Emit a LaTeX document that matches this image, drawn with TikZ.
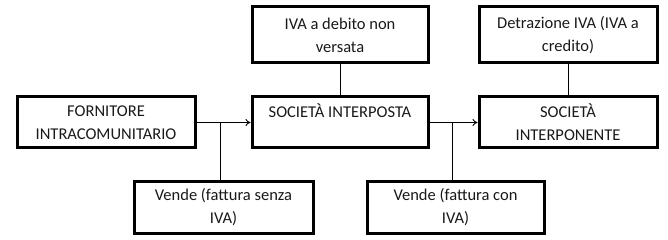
\documentclass[tikz,border=0pt]{standalone}
\usepackage{fontspec}
\setmainfont{Carlito}
\usetikzlibrary{arrows.meta}
\begin{document}
\begin{tikzpicture}[x=1pt,y=-1pt,
  box/.style={draw=black, line width=3pt, inner sep=0pt, align=center,
    font=\fontsize{16.5}{23}\selectfont, text=black!90},
  conn/.style={draw=black, line width=0.9pt},
  arr/.style={conn, -{To[length=5pt,width=7pt]}}]
\useasboundingbox (0,0) rectangle (668,240);
\node[box, minimum width=178pt, minimum height=51pt] (forn) at (106,122.5) {FORNITORE\\INTRACOMUNITARIO};
\node[box, minimum width=176pt, minimum height=51pt] (inter) at (340,122.5) {SOCIETÀ INTERPOSTA\\\phantom{X}};
\node[box, minimum width=178pt, minimum height=51pt] (interp) at (568,122.5) {SOCIETÀ\\INTERPONENTE};
\node[box, minimum width=176pt, minimum height=56pt] (debito) at (340,35) {IVA a debito non\\versata};
\node[box, minimum width=178pt, minimum height=56pt] (detr) at (568,35) {Detrazione IVA (IVA a\\credito)};
\node[box, minimum width=179pt, minimum height=52pt] (vsenza) at (223.5,207) {Vende (fattura senza\\IVA)};
\node[box, minimum width=177pt, minimum height=52pt] (vcon) at (455.5,207.5) {Vende (fattura con\\IVA)};
\draw[arr] (forn.east) -- (inter.west);
\draw[arr] (inter.east) -- (interp.west);
\coordinate (j1) at (220,122.5);
\coordinate (j2) at (452,122.5);
\draw[conn] (j1) -- (j1 |- vsenza.north);
\draw[conn] (j2) -- (j2 |- vcon.north);
\draw[conn] (debito.south) -- (inter.north);
\draw[conn] (detr.south) -- (interp.north);
\end{tikzpicture}
\end{document}
